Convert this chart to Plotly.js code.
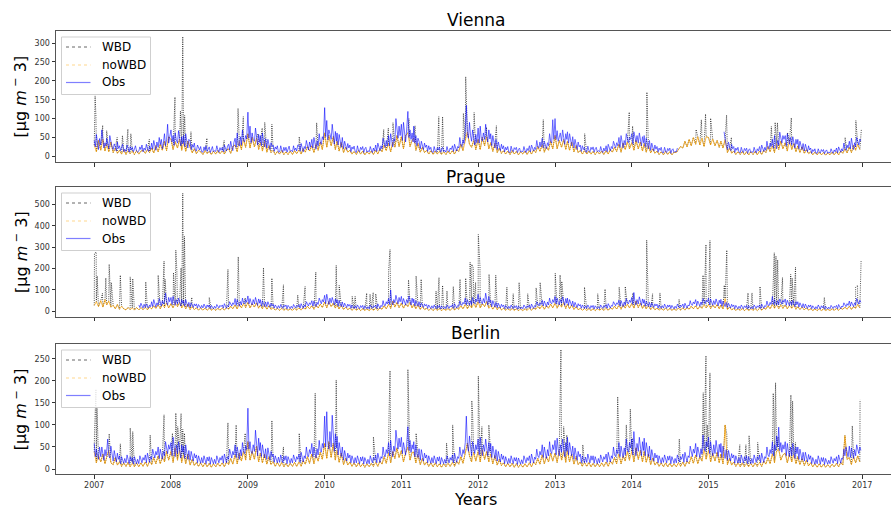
<!DOCTYPE html>
<html>
<head>
<meta charset="utf-8">
<script src="https://cdn.plot.ly/plotly-3.0.1.min.js"></script>
<style>html,body{margin:0;padding:0;overflow:hidden;background:#fff;}#chart{width:900px;height:508px;}</style>
</head>
<body>
<div id="chart"></div>
<script>
// ---- sampling grids 2007-2016: Obs on 6 days per month, model series on 3 days per month ----
const gridYears = [2007,2008,2009,2010,2011,2012,2013,2014,2015,2016];
const obsDays = ['01','06','11','16','21','26'];
const modelDays = ['01','11','21'];
const yearTicks = ['2007','2008','2009','2010','2011','2012','2013','2014','2015','2016','2017'];
const cities = ['Vienna','Prague','Berlin'];
const seriesNames = ['WBD','noWBD','Obs'];

// ---- Vienna ----
const viennaObs = [
42,25,58,33,18,47, 30,70,41,22,36,27, 48,31,20,55,38,26, 18,33,25,14,38,21, 28,15,24,32,12,19, 13,30,22,11,26,17,
24,12,19,28,15,11, 14,25,18,30,12,22, 16,32,20,13,27,18, 35,19,42,26,16,38, 24,50,31,45,20,36, 60,28,44,85,35,52,
70,38,55,29,62,44, 35,68,47,28,52,33, 55,26,60,38,22,45, 40,18,31,24,35,16, 14,30,22,17,26,12, 11,25,16,28,13,19,
25,10,18,26,12,15, 13,28,17,11,23,16, 24,12,30,18,14,27, 32,17,40,25,15,36, 48,24,62,33,27,52, 30,70,42,38,55,46,
117,48,80,36,62,45, 40,75,52,30,58,37, 55,28,62,40,25,47, 22,45,30,18,36,26, 30,13,25,19,28,11, 12,28,17,11,24,15,
24,11,19,27,13,16, 12,28,16,22,14,30, 30,14,34,20,12,26, 20,42,28,17,38,24, 45,22,50,34,19,41, 28,60,38,32,52,44,
129,52,95,44,70,60, 45,85,58,32,66,40, 62,30,58,42,24,50, 20,40,26,18,34,22, 30,12,25,19,27,13, 10,28,16,12,24,18,
26,10,20,24,11,15, 12,26,17,10,22,14, 30,13,35,21,15,28, 20,48,30,24,42,27, 55,28,60,38,25,47, 40,100,62,48,80,55,
85,42,90,55,38,70, 119,50,70,45,62,38, 80,35,55,28,48,40, 20,40,27,18,35,24, 30,13,28,18,24,12, 10,26,15,12,23,17,
25,11,19,24,12,16, 11,26,15,12,22,18, 28,13,32,20,14,26, 22,50,30,26,44,34, 70,135,60,48,90,55, 40,70,45,30,58,36,
75,35,80,48,40,62, 45,85,55,38,70,46, 60,28,55,38,22,45, 18,38,25,15,32,20, 28,12,24,17,26,11, 10,27,16,12,23,18,
24,10,18,22,11,14, 12,26,16,10,21,15, 28,12,30,19,14,24, 18,42,26,22,38,25, 48,22,40,30,20,36, 28,60,40,35,97,45,
100,45,68,40,55,62, 40,70,50,32,60,45, 65,35,60,42,28,52, 22,45,30,18,38,25, 30,13,28,18,24,12, 11,27,16,12,24,18,
25,11,20,24,12,15, 12,26,16,10,22,14, 28,12,32,20,14,26, 20,40,26,22,36,28, 50,24,55,35,22,42, 30,60,42,36,50,45,
60,32,65,45,38,55, 35,62,44,28,52,36, 55,25,48,34,20,42, 16,35,22,14,30,19, 26,11,22,16,24,10, 9,24,14,10,21,15,
22,8,17,20,10,13, 12,22,null,null,null,null, null,null,null,null,null,null, null,null,null,null,null,null, null,null,null,null,null,null, null,null,null,null,null,null,
null,null,null,null,null,null, null,null,null,null,null,null, null,null,null,65,38,30, 18,38,24,15,32,20, 26,10,22,16,24,11, 9,24,14,10,21,15,
22,8,17,20,10,13, 10,24,15,9,20,14, 26,11,30,18,13,24, 16,40,24,20,35,26, 45,22,55,34,20,42, 30,64,42,35,55,45,
55,28,60,40,32,50, 30,52,38,22,45,32, 45,20,40,28,18,34, 14,32,20,12,28,17, 22,8,18,13,20,9, 8,20,12,9,18,13,
18,7,14,17,8,11, 9,20,13,8,17,12, 22,9,25,15,11,20, 14,35,20,16,30,22, 40,20,48,30,18,36, 25,50,35,30,46,40
];
const viennaNoWBD = [
30,12,42,16,45,14,32,12,38,10,22,8,16,6,18,5,15,7,14,5,15,6,14,16,8,18,10,22,9,28,12,32,16,40,15,52,
45,18,38,22,46,16,36,13,40,24,9,20,7,16,12,5,15,7,13,5,14,6,15,7,14,6,17,20,8,26,30,12,40,18,45,24,
60,22,50,25,48,18,36,14,40,11,28,10,16,5,13,6,15,5,12,5,14,5,15,7,17,6,20,11,26,14,28,10,32,16,38,18,
62,24,55,28,52,18,40,14,36,10,24,11,16,6,13,5,15,6,14,4,12,6,14,5,16,6,20,12,30,15,34,12,38,24,55,26,
52,20,55,62,26,42,48,16,34,11,24,10,16,6,15,5,14,6,13,5,12,5,14,6,15,6,18,13,32,15,42,65,32,24,42,18,
45,18,50,28,52,20,36,13,34,10,22,8,15,6,14,5,15,6,13,4,12,6,14,5,15,6,17,10,26,13,30,11,25,16,40,20,
55,20,42,24,44,18,40,16,38,12,28,10,16,6,15,6,14,6,13,5,13,6,14,5,15,6,18,11,24,13,32,11,35,18,38,20,
36,16,42,20,38,14,34,11,28,9,20,8,14,5,12,4,13,5,12,4,11,10,18,26,22,40,25,45,28,50,32,52,30,48,26,52,
50,30,46,28,42,24,40,22,44,10,22,8,14,5,12,5,13,4,12,4,12,5,13,4,14,5,16,10,26,12,28,10,34,18,40,20,
36,14,40,18,34,12,28,10,25,8,18,7,12,4,11,4,11,4,10,3,9,4,11,4,12,4,14,8,20,9,24,10,30,16,32,18
];
const viennaSpikeDates = ['2007-01-02','2007-01-05','2007-01-09','2007-02-10','2007-03-01','2007-04-20','2007-05-15','2007-06-10','2007-06-24','2007-09-20',
'2008-01-20','2008-02-15','2008-02-26','2008-03-06','2008-04-05','2008-06-20','2008-09-10','2008-11-15','2008-12-10',
'2009-02-18','2009-03-10','2009-03-22','2009-04-25','2009-09-02','2009-11-24',
'2010-10-09','2010-10-31','2010-11-22','2011-02-06','2011-03-07','2011-06-28','2011-07-16','2011-10-23','2011-11-03','2011-12-13',
'2012-02-10','2012-03-28','2012-11-06','2013-05-22','2013-12-20','2014-01-05','2014-03-14',
'2014-11-03','2014-11-28','2014-12-18','2015-01-11','2015-03-28','2015-04-20',
'2015-10-27','2015-11-14','2015-11-25','2016-01-12','2016-01-30','2016-10-12','2016-12-02','2016-12-28'];
const viennaSpikeVals = [58,160,107,82,68,50,55,72,60,45,
157,120,317,108,65,48,42,127,105,
60,75,90,85,52,89,
71,75,89,100,81,105,105,114,211,116,
77,81,97,60,117,80,170,
71,97,112,101,109,50,
79,90,89,63,102,50,95,70];

// ---- Prague ----
const pragueObs = [
null,null,null,null,null,null, null,null,null,null,null,null, null,null,null,null,null,null, null,null,null,null,null,null, null,null,null,null,null,null, null,null,null,null,null,null,
null,null,null,null,null,null, 30,18,38,24,15,33, 18,35,24,16,30,22, 45,22,55,32,20,40, 28,60,38,25,50,34, 50,85,42,30,65,45,
65,32,70,45,28,55, 35,62,40,25,55,38, 50,24,55,35,22,42, 20,40,28,18,35,25, 35,16,32,22,15,28, 16,34,22,14,30,20,
30,13,28,20,12,24, 14,32,20,16,28,22, 30,15,36,24,14,28, 22,45,30,25,40,32, 60,28,55,38,24,46, 30,62,40,35,55,42,
72,35,60,42,30,55, 35,65,45,28,58,38, 55,24,50,32,22,44, 22,45,30,20,38,26, 34,15,30,22,14,27, 15,32,20,14,29,22,
30,12,28,20,13,24, 14,32,20,16,28,22, 32,15,36,24,14,30, 22,45,30,25,40,32, 50,24,48,34,22,42, 32,62,42,35,55,44,
75,36,80,50,32,62, 40,65,45,30,58,40, 55,24,50,34,22,44, 20,38,26,18,34,24, 32,14,30,20,13,26, 14,30,20,12,27,18,
28,11,26,18,12,22, 12,30,19,14,26,20, 30,13,35,22,14,28, 22,50,30,26,45,34, 60,32,100,45,30,55, 40,75,50,35,65,45,
70,34,60,42,30,55, 40,72,48,30,62,40, 58,26,50,34,24,45, 20,40,28,18,35,25, 32,14,30,20,13,26, 14,30,20,12,27,18,
28,11,26,18,12,22, 13,30,19,14,26,20, 32,14,36,22,15,28, 24,48,32,28,42,35, 62,30,55,40,28,50, 32,65,42,36,58,45,
80,38,65,45,35,60, 40,85,52,30,70,42, 52,22,50,32,20,42, 18,38,25,16,33,22, 30,13,28,19,12,24, 13,30,19,12,26,18,
27,10,25,17,11,21, 12,30,18,14,26,19, 30,13,34,22,14,27, 22,45,30,26,40,32, 52,25,48,34,22,44, 30,62,40,35,55,42,
70,34,62,42,30,55, 38,68,45,28,60,38, 62,28,55,38,26,48, 20,42,28,18,36,25, 32,14,30,20,13,26, 14,30,20,12,27,18,
28,11,26,18,12,22, 13,30,19,14,26,20, 32,14,36,22,15,28, 24,45,30,26,40,33, 52,24,50,34,22,44, 30,60,40,35,52,42,
65,32,88,45,30,55, 35,68,44,28,58,38, 55,24,48,34,22,42, 20,40,28,18,35,25, 34,15,30,22,14,27, 15,34,22,14,30,20,
30,13,28,20,12,24, 14,34,21,16,29,22, 34,15,38,24,15,30, 25,50,32,28,44,35, 55,26,48,36,24,44, 32,60,42,36,52,44,
62,30,58,40,28,50, 32,58,40,26,52,36, 56,24,48,34,22,42, 18,38,26,16,33,22, 30,12,28,19,12,24, 13,30,19,12,26,18,
28,11,27,18,12,22, 12,30,18,14,26,19, 30,13,34,22,14,27, 22,48,30,26,42,32, 70,32,55,40,28,50, 32,58,40,34,52,42,
58,28,52,38,26,46, 30,52,36,22,46,32, 45,20,40,28,18,36, 16,34,22,14,30,20, 30,12,26,18,11,22, 12,30,18,11,26,17,
26,10,24,16,11,20, 12,28,17,13,24,18, 28,12,32,20,13,25, 20,40,26,22,36,28, 48,24,44,32,22,40, 30,60,40,34,52,42
];
const pragueNoWBD = [
28,45,22,50,20,55,30,48,20,28,12,32,10,24,12,7,18,8,16,6,18,7,17,8,18,7,20,12,26,14,30,12,32,18,40,16,
36,16,40,22,42,16,30,12,34,9,22,8,17,6,15,6,15,5,14,5,13,5,14,6,15,6,18,10,24,12,30,11,34,16,36,18,
42,16,36,20,40,15,30,12,30,10,26,9,16,6,14,5,14,5,13,5,12,5,14,6,16,6,18,10,24,12,26,10,28,16,34,18,
44,17,45,22,38,15,30,11,28,9,20,8,15,5,14,5,13,4,12,4,11,4,12,5,14,5,16,10,26,12,32,14,48,20,42,18,
38,15,34,22,42,16,32,12,30,9,22,8,15,5,14,4,13,5,12,4,11,5,12,5,15,6,17,10,26,12,32,12,30,16,36,18,
45,16,36,22,46,15,28,10,26,8,20,7,14,5,13,5,13,4,12,4,11,4,12,5,14,5,16,9,22,11,28,10,26,15,34,16,
38,15,34,20,40,14,34,12,30,9,22,8,14,5,13,5,13,4,12,4,12,5,13,5,14,5,17,10,24,11,28,10,30,15,34,16,
36,15,48,18,38,14,30,11,26,8,20,7,15,6,13,6,15,5,13,5,12,5,15,6,16,6,18,10,24,12,26,10,24,14,30,16,
32,13,30,16,32,12,30,11,60,8,20,7,13,5,12,5,13,4,12,4,12,5,13,4,14,5,16,10,26,12,32,14,30,13,30,14,
30,12,28,14,28,10,22,9,20,7,17,6,12,4,11,4,12,4,11,4,10,4,12,5,13,5,15,9,20,10,24,9,22,14,32,16
];
const pragueSpikeDates = ['2007-01-02','2007-01-10','2007-01-15','2007-02-09','2007-02-25','2007-03-13','2007-03-23','2007-05-05','2007-06-21','2007-07-03','2007-09-03','2007-11-01','2007-11-29','2007-12-04',
'2008-01-13','2008-01-24','2008-01-29','2008-02-18','2008-02-26','2008-03-05','2008-04-09','2008-07-01','2008-09-28','2008-11-16','2008-12-19',
'2009-03-16','2009-04-25','2009-06-19','2009-08-26','2009-09-30','2009-11-20',
'2010-02-25','2010-03-11','2010-05-12','2010-05-26','2010-07-20','2010-08-05','2010-08-20','2010-09-01','2010-11-01','2010-11-08',
'2011-02-04','2011-03-12','2011-04-05','2011-06-15','2011-06-29','2011-07-16','2011-08-06','2011-09-05','2011-10-07','2011-11-03','2011-11-24','2011-12-02','2011-12-09','2011-12-20',
'2012-01-02','2012-01-10','2012-02-22','2012-03-25','2012-05-17','2012-06-16','2012-07-14','2012-08-24','2012-10-03','2012-10-22',
'2013-01-02','2013-01-25','2013-02-02','2013-05-21','2013-07-23','2013-08-27','2013-11-02','2013-12-01',
'2014-01-07','2014-03-13','2014-04-10','2014-05-15','2014-08-14','2014-12-06','2014-12-20',
'2015-01-08','2015-03-17','2015-03-29','2015-07-08','2015-07-27','2015-09-03','2015-11-10','2015-11-18','2015-11-26','2015-12-19',
'2016-01-27','2016-02-03','2016-02-19','2016-07-05','2016-12-01','2016-12-10','2016-12-27'];
const pragueSpikeVals = [270,278,165,85,156,220,135,169,161,153,138,169,235,150,
181,286,190,203,553,351,65,65,196,255,63,
204,155,124,76,116,184,
215,122,70,70,85,80,88,82,186,289,
147,165,150,95,158,121,95,116,150,155,230,220,204,135,
359,208,173,169,113,82,135,82,110,135,
178,170,140,113,82,104,113,116,
86,333,82,86,56,169,312,
331,122,286,86,86,116,274,258,240,158,
173,155,207,65,113,122,240];

// ---- Berlin ----
const berlinObs = [
58,28,45,32,22,50, 28,50,35,20,44,30, 40,68,30,25,52,36, 18,42,26,16,36,22, 30,12,28,18,13,24, 14,32,20,12,28,18,
26,11,28,18,12,22, 12,30,19,14,26,20, 32,14,36,22,15,28, 22,45,30,25,40,32, 50,24,45,34,22,40, 30,62,42,35,55,45,
60,30,72,45,28,55, 35,62,42,25,55,38, 52,24,55,35,22,42, 20,40,28,18,35,25, 32,14,30,20,13,26, 14,30,20,12,27,18,
28,11,26,18,12,22, 12,30,19,14,26,20, 30,13,34,22,14,28, 22,45,30,25,40,32, 55,26,50,34,22,44, 30,60,40,35,52,44,
138,45,62,40,35,55, 40,88,50,30,70,42, 60,28,55,38,25,46, 22,48,30,20,40,28, 34,15,30,22,14,27, 15,32,22,14,29,20,
30,12,28,20,13,24, 14,32,20,16,28,22, 34,15,38,24,16,30, 24,50,32,28,44,35, 58,28,50,36,25,46, 32,65,42,38,58,48,
120,50,130,60,45,85, 50,122,65,40,80,48, 74,32,60,40,28,50, 20,42,28,18,36,25, 32,14,30,20,13,26, 14,30,20,12,27,18,
28,11,26,18,12,22, 12,30,19,14,26,20, 32,14,36,22,15,28, 24,50,32,28,44,35, 60,30,65,42,28,52, 40,88,55,45,70,50,
72,35,60,45,32,55, 96,42,65,38,55,45, 62,28,55,36,26,46, 20,44,28,18,36,25, 32,14,30,20,13,26, 14,30,20,12,27,18,
28,11,26,18,12,22, 13,30,19,14,26,20, 32,14,36,22,15,28, 24,50,32,28,44,35, 60,120,55,40,75,50, 30,62,42,35,55,44,
68,32,72,45,30,55, 40,68,45,30,60,40, 58,26,52,35,24,44, 18,40,26,16,34,22, 30,12,28,19,12,24, 13,30,19,12,26,18,
26,10,25,17,11,21, 12,30,18,14,26,19, 30,13,34,22,14,27, 22,45,30,26,40,32, 55,26,50,36,24,44, 30,62,40,35,55,44,
65,32,70,45,30,55, 38,68,45,28,60,40, 72,32,60,40,30,52, 22,48,30,20,40,28, 34,14,30,22,14,27, 15,34,22,14,30,20,
30,13,28,20,12,24, 14,32,20,16,28,22, 34,15,38,24,16,30, 24,50,32,28,44,35, 60,28,52,38,26,48, 32,68,44,38,60,48,
68,32,85,50,30,58, 40,72,48,30,62,42, 70,30,60,40,28,52, 20,44,28,18,36,25, 32,14,30,20,13,26, 15,32,22,14,29,20,
30,12,28,20,13,24, 14,32,20,16,28,22, 34,15,38,24,16,30, 26,52,34,28,45,36, 58,28,50,38,26,46, 34,77,48,40,62,50,
72,35,62,45,30,55, 35,65,44,28,56,38, 58,26,52,36,24,44, 20,42,28,18,35,25, 32,13,30,20,13,26, 14,32,20,13,28,19,
30,12,28,20,12,24, 13,32,20,15,28,21, 32,14,36,22,15,28, 24,50,32,28,44,35, 62,30,55,42,75,50, 95,42,60,38,55,45,
62,30,58,40,28,50, 30,58,40,24,50,35, 50,22,45,30,20,38, 18,38,26,16,33,22, 30,12,26,18,11,22, 12,30,18,11,26,17,
26,10,24,16,11,20, 12,28,17,13,24,18, 28,12,32,20,13,25, 22,45,30,50,38,28, 52,26,48,35,24,44, 30,55,40,35,50,42
];
const berlinNoWBD = [
38,14,30,16,34,12,28,42,14,10,26,9,16,6,14,6,15,5,13,5,14,5,14,6,16,6,18,10,26,12,30,12,28,16,40,20,
40,15,48,20,42,15,32,12,34,9,22,8,15,6,14,5,14,5,13,4,12,5,13,6,14,5,16,10,24,11,32,12,36,18,40,20,
62,20,40,22,52,16,36,14,34,11,28,10,17,6,15,6,15,5,13,5,13,6,15,6,16,6,19,11,28,13,34,12,30,18,38,22,
58,24,62,26,58,20,42,15,36,10,24,9,16,6,14,5,14,5,12,4,12,5,13,6,15,6,18,11,28,13,36,14,40,24,48,26,
42,16,36,50,20,38,38,14,32,10,24,9,16,6,14,5,14,5,12,4,12,5,13,6,15,6,18,11,28,13,36,58,30,16,38,18,
40,16,44,22,40,16,34,12,30,9,22,8,14,5,13,5,13,4,12,4,11,4,12,5,14,5,16,10,24,11,32,12,28,16,36,18,
36,15,42,20,40,15,42,16,34,11,28,10,16,6,15,6,15,5,13,5,13,5,14,6,16,6,18,11,26,12,34,12,30,18,40,20,
40,16,48,22,42,16,40,15,34,10,25,9,16,6,14,5,14,5,13,5,12,5,14,6,16,6,18,12,28,13,32,12,28,18,44,22,
42,16,36,18,38,14,34,12,100,10,24,9,16,6,14,5,14,5,13,5,13,5,14,6,15,6,18,11,26,12,34,14,40,45,20,32,
36,14,34,16,32,12,28,10,24,8,20,7,14,5,12,4,12,4,11,4,10,4,11,5,13,5,15,9,76,22,26,10,28,14,30,16
];
const berlinSpikeDates = ['2007-01-02','2007-01-09','2007-01-14','2007-01-18','2007-03-13','2007-05-05','2007-06-21','2007-07-03','2007-09-24','2007-11-29',
'2008-01-08','2008-01-24','2008-02-02','2008-02-18','2008-02-26','2008-03-05','2008-09-28','2008-11-06','2008-12-19',
'2009-04-25','2009-06-19','2009-09-02','2009-11-17','2010-02-25','2010-08-21','2010-11-03','2010-11-08',
'2011-02-01','2011-03-12','2011-08-04','2011-09-02','2011-12-02','2011-12-06','2012-01-02','2012-01-19','2012-02-21',
'2013-01-29','2013-02-11','2013-02-26','2013-05-13','2013-10-26','2013-10-30','2013-12-06','2013-12-25','2014-01-03','2014-08-15',
'2014-12-07','2014-12-20','2014-12-26','2015-01-08','2015-03-29','2015-05-30','2015-06-28','2015-07-13','2015-08-23',
'2015-11-05','2015-11-09','2015-11-16','2015-11-28','2016-01-28','2016-02-05','2016-02-19','2016-11-15','2016-12-22'];
const berlinSpikeVals = [77,181,138,96,80,57,93,85,77,123,
81,127,96,126,90,81,105,100,81,
110,50,81,172,202,73,122,223,
226,81,59,100,155,122,211,96,100,
271,96,77,55,164,96,100,136,70,68,
173,257,100,218,80,55,55,76,60,
172,102,196,73,168,154,60,98,157];

// ---------------------------------------------------------------
function buildGrid(days){
  const out = [];
  for (const y of gridYears) for (let m = 1; m <= 12; m++) for (const d of days)
    out.push(y + '-' + String(m).padStart(2,'0') + '-' + d);
  return out;
}
const obsGrid = buildGrid(obsDays);
const modelGrid = buildGrid(modelDays);

function wbdSeries(noWBD, sDates, sVals){
  const pts = modelGrid.map((d,i)=>[d, noWBD[i]]);
  sDates.forEach((d,i)=>pts.push([d, sVals[i]]));
  pts.sort((a,b)=> a[0] < b[0] ? -1 : (a[0] > b[0] ? 1 : 0));
  return {x: pts.map(p=>p[0]), y: pts.map(p=>p[1])};
}

const FONT = 'DejaVu Sans, Arial, sans-serif';
const data = [
  {obs: viennaObs, no: viennaNoWBD, sd: viennaSpikeDates, sv: viennaSpikeVals},
  {obs: pragueObs, no: pragueNoWBD, sd: pragueSpikeDates, sv: pragueSpikeVals},
  {obs: berlinObs, no: berlinNoWBD, sd: berlinSpikeDates, sv: berlinSpikeVals}
];

const traces = [];
data.forEach((c, k) => {
  const ax = k === 0 ? '' : String(k+1);
  const w = wbdSeries(c.no, c.sd, c.sv);
  traces.push({type:'scatter', mode:'lines', name: seriesNames[0], x: w.x, y: w.y,
    xaxis:'x'+ax, yaxis:'y'+ax, showlegend:false,
    line:{color:'#000000', width:0.9, dash:'1px,1.2px'}, opacity:0.75});
  traces.push({type:'scatter', mode:'lines', name: seriesNames[1], x: modelGrid, y: c.no,
    xaxis:'x'+ax, yaxis:'y'+ax, showlegend:false,
    line:{color:'#ffa500', width:0.9}, opacity:0.8});
  traces.push({type:'scatter', mode:'lines', name: seriesNames[2], x: obsGrid, y: c.obs,
    xaxis:'x'+ax, yaxis:'y'+ax, showlegend:false, connectgaps:false,
    line:{color:'#0000ff', width:0.8}, opacity:0.72});
});

const W = 900, H = 508;
const domains = [[1-162/H, 1-31/H],[1-316.7/H, 1-187.3/H],[1-474.3/H, 1-344.3/H]];
const yRanges = [[-15, 332],[-25, 580],[-12, 283]];
const yDtick = [50, 100, 50];
const tickDates = yearTicks.map(y => y + '-01-01');

const layout = {
  width: W, height: H,
  margin: {l:0, r:0, t:0, b:0},
  paper_bgcolor:'#fff', plot_bgcolor:'#fff',
  font: {family: FONT, color:'#000'},
  showlegend: false,
  annotations: [], shapes: []
};
const titleY = [20, 176.7, 333];
const legendTop = [37, 193, 350];
const legendRows = [10, 28, 45.5];
const legendStyles = [
  {color:'rgba(0,0,0,0.6)', width:1, dash:'dot'},
  {color:'rgba(255,165,0,0.45)', width:1.2, dash:'dot'},
  {color:'rgba(0,0,255,0.5)', width:1.2, dash:'solid'}
];
const px = v => v / W, py = v => 1 - v / H;

cities.forEach((name, k) => {
  const sfx = k === 0 ? '' : String(k+1);
  layout['xaxis'+sfx] = {
    type:'date', domain:[56/W, 1], anchor:'y'+sfx,
    range:['2006-07-03','2017-06-30'],
    tickmode:'array', tickvals: tickDates, ticktext: yearTicks,
    showticklabels: k === 2,
    ticks:'outside', ticklen:3.5, tickwidth:1, tickcolor:'#333',
    tickfont:{family:FONT, size:8, color:'#333'},
    showline:true, mirror:true, linecolor:'#555', linewidth:1,
    showgrid:false, zeroline:false
  };
  if (k > 0) layout['xaxis'+sfx].matches = 'x';
  layout['yaxis'+sfx] = {
    domain: domains[k], anchor:'x'+sfx, range: yRanges[k],
    tickmode:'linear', tick0:0, dtick:yDtick[k],
    ticks:'outside', ticklen:3.5, tickwidth:1, tickcolor:'#333',
    tickfont:{family:FONT, size:8, color:'#333'},
    showline:true, mirror:true, linecolor:'#555', linewidth:1,
    showgrid:false, zeroline:false
  };
  // legend box per panel
  const T = legendTop[k];
  layout.shapes.push({type:'rect', xref:'paper', yref:'paper', layer:'above',
    x0:px(61.5), x1:px(150.5), y0:py(T+57.5), y1:py(T),
    fillcolor:'rgba(255,255,255,0.85)', line:{color:'#cfcfcf', width:1}});
  seriesNames.forEach((s, i) => {
    const yy = T + legendRows[i];
    layout.shapes.push({type:'line', xref:'paper', yref:'paper', layer:'above',
      x0:px(66), x1:px(90.5), y0:py(yy), y1:py(yy), line: legendStyles[i]});
    layout.annotations.push({text:s, xref:'paper', yref:'paper', x:px(99.5), y:py(yy),
      xanchor:'left', yanchor:'middle', showarrow:false, font:{family:FONT, size:12, color:'#000'}});
  });
  layout.annotations.push({text:name, xref:'paper', yref:'paper', x:476/W, y:1-titleY[k]/H,
    xanchor:'center', yanchor:'middle', showarrow:false, font:{family:FONT, size:17, color:'#000'}});
  layout.annotations.push({text:'[µg <i>m</i><sup> −</sup> 3]', xref:'paper', yref:'paper',
    x:20/W, y:(domains[k][0]+domains[k][1])/2, xanchor:'center', yanchor:'middle', textangle:-90,
    showarrow:false, font:{family:FONT, size:16, color:'#000'}});
});
layout.annotations.push({text:'Years', xref:'paper', yref:'paper', x:476/W, y:1-499/H,
  xanchor:'center', yanchor:'middle', showarrow:false, font:{family:FONT, size:16, color:'#000'}});

Plotly.newPlot('chart', traces, layout, {displayModeBar:false, staticPlot:true});
</script>
</body>
</html>
